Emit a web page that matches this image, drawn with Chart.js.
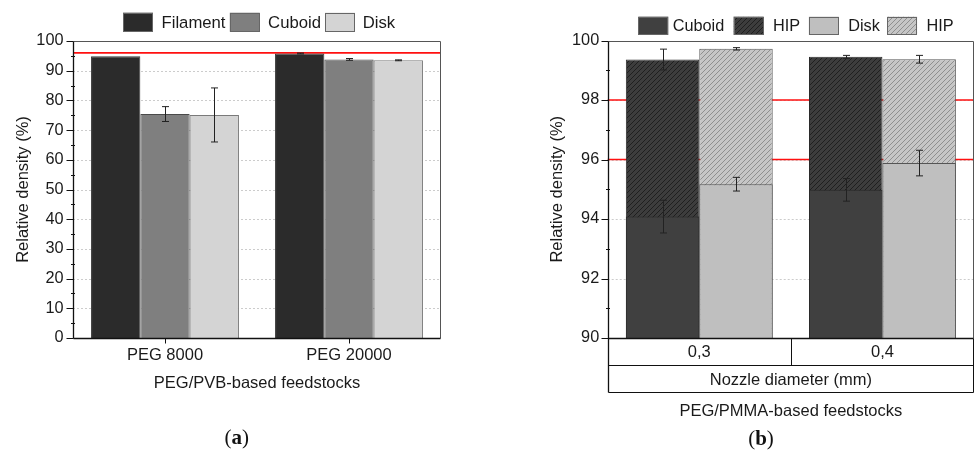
<!DOCTYPE html>
<html><head><meta charset="utf-8">
<script src="https://cdn.jsdelivr.net/npm/chart.js@4"></script>
<style>
html,body{margin:0;padding:0;background:#fff;overflow:hidden;width:975px;height:452px;}
#ca{position:absolute;left:0;top:0;}
#cb{position:absolute;left:530px;top:0;}
.cap{position:absolute;font-family:"Liberation Serif","DejaVu Serif",serif;font-size:21px;color:#111;transform:translate(-50%,-50%);white-space:nowrap;}
</style></head><body>
<canvas id="ca" width="480" height="452"></canvas>
<canvas id="cb" width="445" height="452"></canvas>
<div class="cap" style="left:236.7px;top:437px">(<b>a</b>)</div>
<div class="cap" style="left:761px;top:438px">(<b>b</b>)</div>
<script>
// ---- data (a) ----
const catsA = ['PEG 8000', 'PEG 20000'];
const filament = [94.9, 95.8];
const filamentErr = [0, 0.15];
const cuboidA = [75.4, 93.8];
const cuboidAErr = [2.5, 0.3];
const diskA = [75.1, 93.5];
const diskAErr = [9.1, 0.15];
const refA = [96];
const yTicksA = [0, 10, 20, 30, 40, 50, 60, 70, 80, 90, 100];

// ---- data (b) ----
const catsB = ['0,3', '0,4'];
const cuboidB = [94.08, 94.98];
const cuboidBErr = [0.55, 0.38];
const cuboidHIP = [99.36, 99.45];
const cuboidHIPErr = [0.35, 0.05];
const diskB = [95.17, 95.88];
const diskBErr = [0.23, 0.43];
const diskHIP = [99.72, 99.37];
const diskHIPErr = [0.04, 0.13];
const refB = [96, 98];
const yTicksB = [90, 92, 94, 96, 98, 100];

const FONT = '"Liberation Sans", Arial, sans-serif';
Chart.defaults.font.family = FONT;
Chart.defaults.font.size = 16.5;
Chart.defaults.color = '#1a1a1a';

function hatch(bg, fg) {
  const c = document.createElement('canvas'); c.width = 5; c.height = 5;
  const g = c.getContext('2d');
  g.fillStyle = bg; g.fillRect(0, 0, 5, 5);
  g.strokeStyle = fg; g.lineWidth = 1;
  g.beginPath();
  g.moveTo(0, 5); g.lineTo(5, 0);
  g.moveTo(-1, 1); g.lineTo(1, -1);
  g.moveTo(4, 6); g.lineTo(6, 4);
  g.stroke();
  return g.createPattern(c, 'repeat');
}

function decor(o) {
  return {
    id: 'decor' + o.key,
    beforeDatasetsDraw(chart) {
      const {ctx, chartArea: a, scales: {y}} = chart;
      ctx.save();
      ctx.strokeStyle = '#cccccc'; ctx.lineWidth = 1; ctx.setLineDash([2, 2]);
      o.ticks.slice(1, -1).forEach(v => {
        const py = Math.round(y.getPixelForValue(v)) + 0.5;
        ctx.beginPath(); ctx.moveTo(a.left, py); ctx.lineTo(a.right, py); ctx.stroke();
      });
      ctx.setLineDash([]);
      ctx.strokeStyle = '#ff1010'; ctx.lineWidth = 1.7;
      o.refs.forEach(v => {
        const py = y.getPixelForValue(v);
        ctx.beginPath(); ctx.moveTo(a.left, py); ctx.lineTo(a.right, py); ctx.stroke();
      });
      ctx.restore();
    },
    afterDatasetsDraw(chart) {
      const {ctx, chartArea: a, scales: {x, y}} = chart;
      ctx.save();
      ctx.strokeStyle = '#222'; ctx.lineWidth = 1;
      chart.data.datasets.forEach((ds, i) => {
        if (!ds.errors) return;
        const meta = chart.getDatasetMeta(i);
        meta.data.forEach((el, j) => {
          const e = ds.errors[j]; if (!e) return;
          const v = ds.data[j];
          const px = Math.round(el.x) + 0.5;
          const t = y.getPixelForValue(v + e), b = y.getPixelForValue(v - e);
          ctx.beginPath();
          ctx.moveTo(px, t); ctx.lineTo(px, b);
          ctx.moveTo(px - 3.5, t); ctx.lineTo(px + 3.5, t);
          ctx.moveTo(px - 3.5, b); ctx.lineTo(px + 3.5, b);
          ctx.stroke();
        });
      });
      // frame
      const L = Math.round(a.left) + 0.5, R = Math.round(a.right) - 0.5;
      const T = Math.round(a.top) + 0.5, B = Math.round(a.bottom) + 0.5;
      ctx.strokeStyle = '#555'; ctx.lineWidth = 1;
      ctx.beginPath(); ctx.moveTo(L, T); ctx.lineTo(R, T); ctx.lineTo(R, B); ctx.stroke();
      ctx.strokeStyle = '#111'; ctx.lineWidth = 1.3;
      ctx.beginPath(); ctx.moveTo(L, T); ctx.lineTo(L, B + o.axisExtend); ctx.moveTo(L, B); ctx.lineTo(R, B); ctx.stroke();
      // ticks
      ctx.lineWidth = 1;
      o.ticks.forEach((v, k) => {
        const py = Math.round(y.getPixelForValue(v)) + 0.5;
        ctx.beginPath(); ctx.moveTo(L - 7, py); ctx.lineTo(L, py); ctx.stroke();
        if (k < o.ticks.length - 1) {
          const pm = Math.round(y.getPixelForValue((v + o.ticks[k + 1]) / 2)) + 0.5;
          ctx.beginPath(); ctx.moveTo(L - 2.5, pm); ctx.lineTo(L + 1.5, pm); ctx.stroke();
        }
      });
      if (o.xTicks) {
        chart.data.labels.forEach((l, i) => {
          const px = Math.round(x.getPixelForValue(i)) + 0.5;
          ctx.beginPath(); ctx.moveTo(px, B); ctx.lineTo(px, B + 5); ctx.stroke();
        });
      }
      if (o.table) {
        const y1 = B + 27, y2 = B + 54;
        ctx.beginPath();
        ctx.moveTo(L, y1); ctx.lineTo(R, y1);
        ctx.moveTo(L, y2); ctx.lineTo(R, y2);
        ctx.moveTo(R, B); ctx.lineTo(R, y2);
        const mid = Math.round((x.getPixelForValue(0) + x.getPixelForValue(1)) / 2) + 0.5;
        ctx.moveTo(mid, B); ctx.lineTo(mid, y1);
        ctx.stroke();
        ctx.fillStyle = '#1a1a1a'; ctx.font = '16.5px ' + FONT;
        ctx.textAlign = 'center'; ctx.textBaseline = 'middle';
        ctx.fillText(o.table, (a.left + a.right) / 2, (y1 + y2) / 2 + 1);
      }
      ctx.restore();
    },
    afterDraw(chart) {
      const {ctx} = chart;
      ctx.save();
      ctx.font = o.legendFont + 'px ' + FONT;
      ctx.textBaseline = 'middle'; ctx.textAlign = 'left';
      let cx = o.legendX;
      chart.data.datasets.forEach((ds, i) => {
        ctx.fillStyle = ds.backgroundColor;
        ctx.fillRect(cx, o.legendY - o.boxH / 2, 30, o.boxH);
        ctx.strokeStyle = '#666'; ctx.lineWidth = 1;
        ctx.strokeRect(Math.round(cx) + 0.5, Math.round(o.legendY - o.boxH / 2) + 0.5, 29, Math.round(o.boxH) - 1);
        cx += 30 + o.gap1[i];
        ctx.fillStyle = '#1a1a1a';
        ctx.fillText(ds.label, cx, o.legendY + 1);
        cx += ctx.measureText(ds.label).width + o.gap2[i];
      });
      ctx.restore();
    }
  };
}

// ---- chart (a) ----
new Chart(document.getElementById('ca'), {
  type: 'bar',
  data: {
    labels: catsA,
    datasets: [
      {label: 'Filament', data: filament, errors: filamentErr, backgroundColor: '#2b2b2b', borderColor: '#3a3a3a', borderWidth: 1},
      {label: 'Cuboid', data: cuboidA, errors: cuboidAErr, backgroundColor: '#7f7f7f', borderColor: '#4a4a4a', borderWidth: 1},
      {label: 'Disk', data: diskA, errors: diskAErr, backgroundColor: '#d4d4d4', borderColor: '#7a7a7a', borderWidth: 1}
    ]
  },
  options: {
    responsive: false, animation: false, devicePixelRatio: 1,
    layout: {padding: {top: 41, right: 39, bottom: 0, left: 0}},
    datasets: {bar: {categoryPercentage: 0.804, barPercentage: 1}},
    plugins: {legend: {display: false}, tooltip: {enabled: false}},
    scales: {
      x: {
        grid: {display: false, drawTicks: false}, border: {display: false},
        ticks: {padding: 7.5, font: {size: 16.5}},
        title: {display: true, text: 'PEG/PVB-based feedstocks', font: {size: 16.5}, padding: {top: 0, bottom: 58.8}},
        afterFit(s) { s.height = 114; }
      },
      y: {
        min: 0, max: 100,
        grid: {display: false, drawTicks: false}, border: {display: false},
        ticks: {stepSize: 10, padding: 9.5, font: {size: 16.3}},
        title: {display: true, text: 'Relative density (%)', font: {size: 16.5}, padding: {top: 13.1, bottom: 0}},
        afterFit(s) { s.width = 73; }
      }
    }
  },
  plugins: [decor({key: 'a', ticks: yTicksA, refs: refA, xTicks: true, axisExtend: 0,
    legendX: 123, legendY: 22.2, boxH: 19, gap1: [8.5, 8.3, 7.7], gap2: [4.3, 4, 0], legendFont: 16.7})]
});

// ---- chart (b) ----
const hipDark = hatch('#3d3d3d', '#1f1f1f');
const hipLight = hatch('#c6c6c6', '#8f8f8f');
new Chart(document.getElementById('cb'), {
  type: 'bar',
  data: {
    labels: catsB,
    datasets: [
      {label: 'Cuboid', data: cuboidB, errors: cuboidBErr, stack: 'cuboid', order: 0, backgroundColor: '#404040', borderColor: '#2a2a2a', borderWidth: 1},
      {label: 'HIP', data: cuboidHIP, errors: cuboidHIPErr, stack: 'cuboid', order: 2, backgroundColor: hipDark, borderColor: '#2a2a2a', borderWidth: 1},
      {label: 'Disk', data: diskB, errors: diskBErr, stack: 'disk', order: 1, backgroundColor: '#bfbfbf', borderColor: '#555', borderWidth: 1},
      {label: 'HIP', data: diskHIP, errors: diskHIPErr, stack: 'disk', order: 3, backgroundColor: hipLight, borderColor: '#555', borderWidth: 1}
    ]
  },
  options: {
    responsive: false, animation: false, devicePixelRatio: 1,
    layout: {padding: {top: 40.5, right: 1, bottom: 0, left: 0}},
    datasets: {bar: {categoryPercentage: 0.802, barPercentage: 1}},
    plugins: {legend: {display: false}, tooltip: {enabled: false}},
    scales: {
      x: {
        grid: {display: false, drawTicks: false}, border: {display: false},
        ticks: {padding: 4.8, font: {size: 16.5}},
        title: {display: true, text: 'PEG/PMMA-based feedstocks', font: {size: 16.5}, padding: {top: 0, bottom: 30.4}},
        afterFit(s) { s.height = 114; }
      },
      y: {
        min: 90, max: 100, stacked: false, beginAtZero: false,
        grid: {display: false, drawTicks: false}, border: {display: false},
        ticks: {stepSize: 2, padding: 8.5, font: {size: 16.3}},
        title: {display: true, text: 'Relative density (%)', font: {size: 16.5}, padding: {top: 17.6, bottom: 0}},
        afterFit(s) { s.width = 77.7; }
      }
    }
  },
  plugins: [decor({key: 'b', ticks: yTicksB, refs: refB, xTicks: false, axisExtend: 54, table: 'Nozzle diameter (mm)',
    legendX: 108.3, legendY: 25.8, boxH: 18.3, gap1: [4.4, 9.4, 9.3, 9.3], gap2: [9.3, 8.7, 7.3, 0], legendFont: 16.3})]
});
</script>
</body></html>
